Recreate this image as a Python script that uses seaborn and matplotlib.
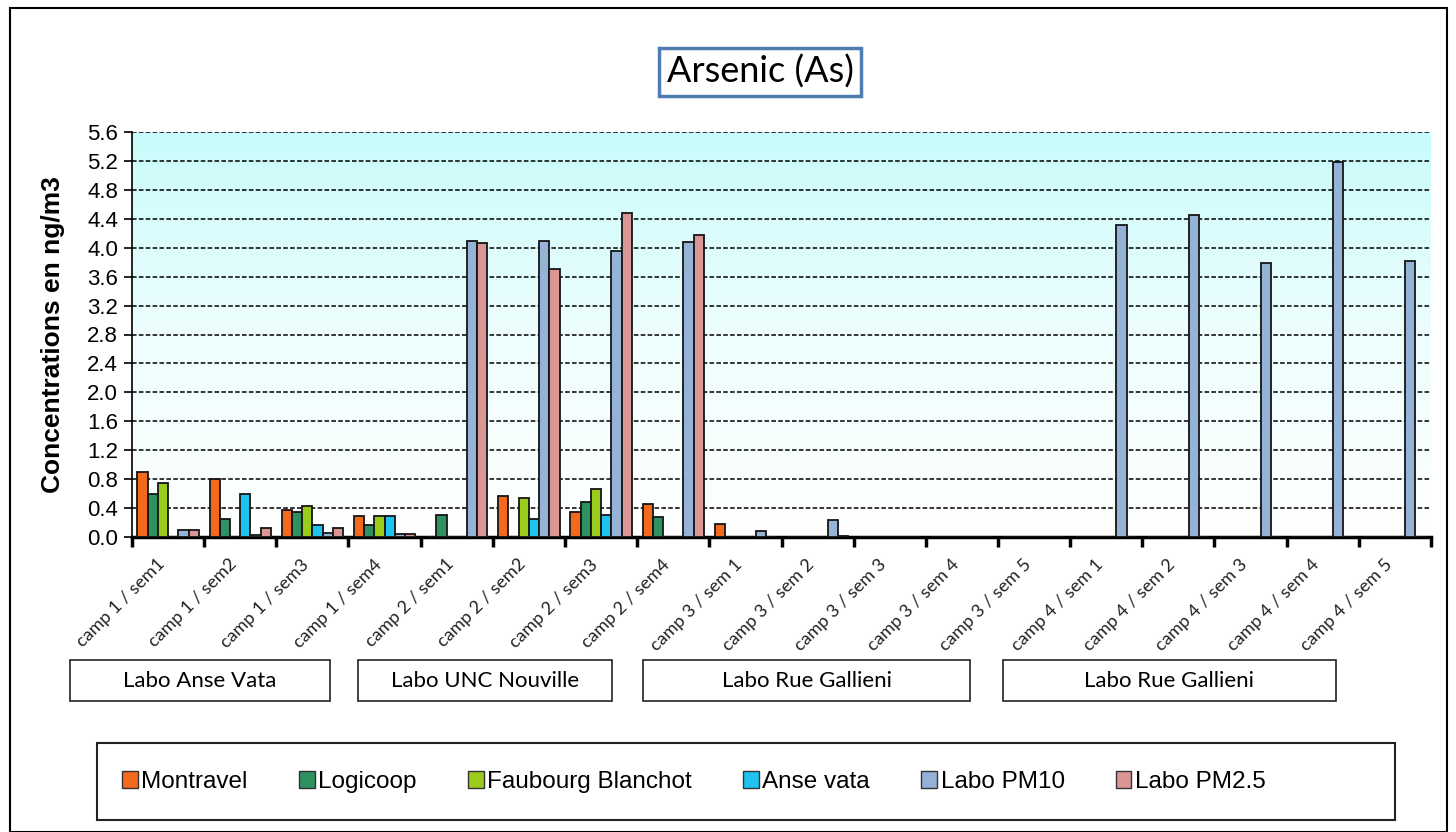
import pandas as pd
import matplotlib.pyplot as plt
import seaborn as sns
import numpy as np
from matplotlib.patches import Rectangle, Patch
from matplotlib.colors import LinearSegmentedColormap

# DATA
periods = ['camp 1 / sem1', 'camp 1 / sem2', 'camp 1 / sem3', 'camp 1 / sem4',
           'camp 2 / sem1', 'camp 2 / sem2', 'camp 2 / sem3', 'camp 2 / sem4',
           'camp 3 / sem 1', 'camp 3 / sem 2', 'camp 3 / sem 3', 'camp 3 / sem 4', 'camp 3 / sem 5',
           'camp 4 / sem 1', 'camp 4 / sem 2', 'camp 4 / sem 3', 'camp 4 / sem 4', 'camp 4 / sem 5']
sites = ['Montravel', 'Logicoop', 'Faubourg Blanchot', 'Anse vata', 'Labo PM10', 'Labo PM2.5']
montravel = [0.90, 0.80, 0.38, 0.29, 0, 0.57, 0.34, 0.45, 0.18, 0, 0, 0, 0, 0, 0, 0, 0, 0]
logicoop = [0.59, 0.25, 0.34, 0.17, 0.31, 0, 0.48, 0.27, 0, 0, 0, 0, 0, 0, 0, 0, 0, 0]
faubourg = [0.74, 0, 0.43, 0.29, 0, 0.54, 0.67, 0, 0, 0, 0, 0, 0, 0, 0, 0, 0, 0]
anse_vata = [0, 0.59, 0.17, 0.29, 0, 0.25, 0.31, 0, 0, 0, 0, 0, 0, 0, 0, 0, 0, 0]
labo_pm10 = [0.09, 0.03, 0.06, 0.04, 4.09, 4.09, 3.96, 4.08, 0.08, 0.24, 0, 0, 0,
             4.32, 4.45, 3.79, 5.18, 3.82]
labo_pm25 = [0.09, 0.12, 0.13, 0.04, 4.06, 3.70, 4.48, 4.18, 0, 0.02, 0, 0, 0,
             0, 0, 0, 0, 0]
lab_groups = ['Labo Anse Vata', 'Labo UNC Nouville', 'Labo Rue Gallieni', 'Labo Rue Gallieni']
colors = ['#f46a1c', '#2e9160', '#9bcc1c', '#1cc4ef', '#95b3d7', '#d99694']

df = pd.DataFrame({'Montravel': montravel, 'Logicoop': logicoop, 'Faubourg Blanchot': faubourg,
                   'Anse vata': anse_vata, 'Labo PM10': labo_pm10, 'Labo PM2.5': labo_pm25})
df['period'] = periods
df_long = df.melt(id_vars='period', var_name='site', value_name='value')

W, H = 1456, 832
fig = plt.figure(figsize=(14.56, 8.32), dpi=100)
ax = fig.add_axes([132 / W, 1 - 537 / H, (1431 - 132) / W, (537 - 132) / H])

# gradient background of the plot area
cmap = LinearSegmentedColormap.from_list('bg', ['#ffffff', '#eefefe', '#c8fbfb'])
ax.imshow(np.linspace(0, 1, 256).reshape(-1, 1), cmap=cmap, aspect='auto',
          extent=[0, 1, 0, 1], transform=ax.transAxes, origin='lower', zorder=0)

sns.barplot(data=df_long, x='period', y='value', hue='site', hue_order=sites,
            palette=colors, saturation=1, width=0.85, edgecolor='#151515',
            linewidth=1.3, legend=False, ax=ax, zorder=3)

ax.set_xlim(-0.5, len(periods) - 0.5)
ax.set_ylim(0, 5.6)
ax.set_yticks(np.arange(0, 5.61, 0.4))
ax.set_yticklabels([f'{v:.1f}' for v in np.arange(0, 5.61, 0.4)],
                   fontsize=16, family='Liberation Sans')
ax.yaxis.grid(True, color='black', linestyle=(0, (3, 1.5)), linewidth=1.1)
ax.set_axisbelow(True)
for g in ax.get_ygridlines():
    g.set_zorder(1)
ax.tick_params(axis='y', direction='out', length=6, width=1.2, pad=4)

ax.set_xticks(range(len(periods)))
ax.set_xticklabels(periods, rotation=45, ha='right', va='bottom', rotation_mode='anchor',
                   fontsize=13, family='Lato', color='#222222')
ax.tick_params(axis='x', which='major', length=0, pad=22)
ax.set_xticks(np.arange(-0.5, len(periods), 1), minor=True)
ax.tick_params(axis='x', which='minor', direction='out', length=7, width=2.5)

for s in ['top', 'right']:
    ax.spines[s].set_visible(False)
ax.spines['bottom'].set_linewidth(2.5)
ax.spines['left'].set_linewidth(1.2)

ax.set_xlabel('')
ax.set_ylabel('Concentrations en ng/m3', fontsize=19, fontweight='bold',
              family='Liberation Sans', labelpad=16)

# title box
fig.text(760 / W, 1 - 72 / H, 'Arsenic (As)', ha='center', va='center',
         fontsize=26, family='Lato',
         bbox=dict(boxstyle='square,pad=0.2', fc='white', ec='#4f7cb1', lw=2.5))

# lab group boxes
boxes = [(70, 330), (358, 612), (643, 970), (1003, 1336)]
for (x0, x1), name in zip(boxes, lab_groups):
    fig.patches.append(Rectangle((x0 / W, 1 - 701 / H), (x1 - x0) / W, 41 / H,
                                 transform=fig.transFigure, fill=False,
                                 ec='#222222', lw=1.2))
    fig.text((x0 + x1) / 2 / W, 1 - 681 / H, name, ha='center', va='center',
             fontsize=16, family='Lato')

# legend with box
fig.patches.append(Rectangle((97 / W, 1 - 820 / H), (1395 - 97) / W, 77 / H,
                             transform=fig.transFigure, fill=False, ec='#222222', lw=1.5))
handles = [Patch(facecolor=c, edgecolor='#333333', label=s) for c, s in zip(colors, sites)]
fig.legend(handles=handles, loc='center left', bbox_to_anchor=(100 / W, 1 - 782 / H),
           ncol=6, frameon=False, prop={'family': 'Liberation Sans', 'size': 17.5},
           handlelength=0.65, handleheight=0.65, handletextpad=0.15, columnspacing=2.1)

# outer frame
fig.patches.append(Rectangle((10 / W, 0), (1447 - 10) / W, 1 - 8 / H,
                             transform=fig.transFigure, fill=False, ec='black', lw=1.5))

fig.savefig('out.png', dpi=100)
